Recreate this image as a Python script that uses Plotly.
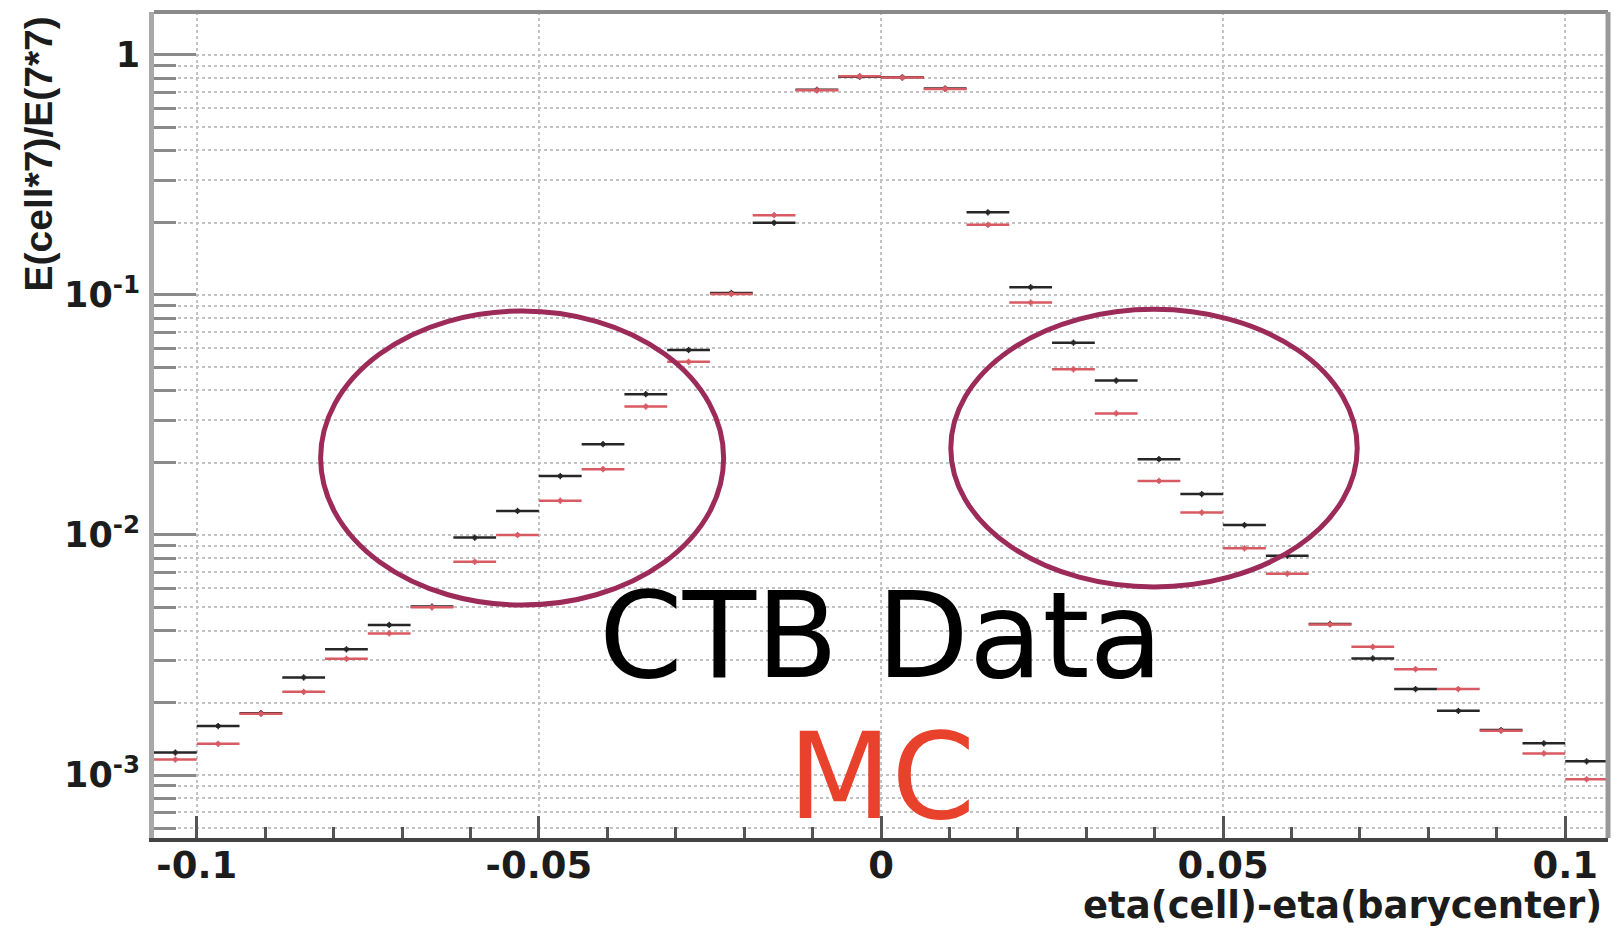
import numpy as np
import plotly.graph_objects as go

# Binning of eta(cell) - eta(barycenter): 34 bins of width 0.00625
N_BINS = 34
ETA_LO, ETA_HI = -0.10625, 0.10625
edges = np.linspace(ETA_LO, ETA_HI, N_BINS + 1)
eta_centers = 0.5 * (edges[:-1] + edges[1:])
half_bin = 0.5 * (edges[1] - edges[0])

# E(cell*7)/E(7*7) per bin
ctb_data = [1.24e-3, 1.60e-3, 1.81e-3, 2.55e-3, 3.34e-3, 4.22e-3, 5.03e-3,
            9.75e-3, 1.26e-2, 1.76e-2, 2.39e-2, 3.86e-2, 5.90e-2, 1.02e-1,
            2.00e-1, 7.16e-1, 8.12e-1, 8.07e-1, 7.25e-1, 2.21e-1, 1.077e-1,
            6.33e-2, 4.40e-2, 2.07e-2, 1.48e-2, 1.10e-2, 8.20e-3, 4.26e-3,
            3.06e-3, 2.28e-3, 1.85e-3, 1.54e-3, 1.355e-3, 1.14e-3]
mc = [1.16e-3, 1.35e-3, 1.80e-3, 2.22e-3, 3.05e-3, 3.89e-3, 5.00e-3,
      7.74e-3, 1.00e-2, 1.39e-2, 1.88e-2, 3.43e-2, 5.27e-2, 1.01e-1,
      2.15e-1, 7.12e-1, 8.15e-1, 8.05e-1, 7.22e-1, 1.96e-1, 9.30e-2,
      4.90e-2, 3.21e-2, 1.68e-2, 1.24e-2, 8.80e-3, 6.90e-3, 4.24e-3,
      3.42e-3, 2.76e-3, 2.28e-3, 1.53e-3, 1.23e-3, 9.60e-4]

x_tickvals = [-0.1, -0.05, 0, 0.05, 0.1]
x_ticktext = ["-0.1", "-0.05", "0", "0.05", "0.1"]
y_tickvals = [1e-3, 1e-2, 1e-1, 1]
y_ticktext = ["10<sup>-3</sup>", "10<sup>-2</sup>", "10<sup>-1</sup>", "1"]
y_minorvals = [m * 10.0 ** d for d in range(-4, 1) for m in range(2, 10)]

BLACK = "#262626"
RED = "#d85a63"
GRID = "#c2c2c2"
RING = "#9c2b59"

fig = go.Figure()


def add_hist(values, color):
    fig.add_trace(go.Scatter(
        x=eta_centers, y=values, mode="markers",
        marker=dict(color=color, size=4, symbol="square"),
        error_x=dict(type="constant", value=half_bin, color=color,
                     thickness=2.5, width=0),
        error_y=dict(type="percent", value=3, color=color,
                     thickness=1.5, width=0),
        showlegend=False, hoverinfo="skip",
    ))


add_hist(ctb_data, BLACK)
add_hist(mc, RED)

tick_font = dict(family="DejaVu Sans", size=37, color="#1c1c1c", weight="bold")

fig.update_xaxes(
    range=[ETA_LO, ETA_HI], tickmode="array", tickvals=x_tickvals,
    ticktext=x_ticktext, ticks="inside", ticklen=22, tickwidth=2.5,
    tickcolor="#555555", showline=True, linecolor="#444444", linewidth=4,
    showgrid=True, gridcolor=GRID, griddash="dot", gridwidth=1.5,
    zeroline=False, tickfont=tick_font, ticklabelstandoff=-8,
    minor=dict(dtick=0.01, tick0=0, ticks="inside", ticklen=11,
               tickwidth=2.5, tickcolor="#555555", showgrid=False),
)
fig.update_yaxes(
    type="log", range=[-3.2625, 0.179], tickmode="array",
    tickvals=y_tickvals, ticktext=y_ticktext, ticks="inside", ticklen=42,
    tickwidth=3, tickcolor="#8a8a8a", showline=True, linecolor="#a8a8a8",
    linewidth=5, showgrid=True, gridcolor=GRID, griddash="dot",
    gridwidth=1.5, zeroline=False,
    tickfont=dict(family="DejaVu Sans", size=35, color="#1c1c1c",
                  weight="bold"),
    ticklabelstandoff=2,
    minor=dict(tickmode="array", tickvals=y_minorvals, ticks="inside",
               ticklen=22, tickwidth=3, tickcolor="#8a8a8a", showgrid=True,
               gridcolor=GRID, griddash="dot", gridwidth=1.5),
)

shapes = [
    # upper and right frame edges
    dict(type="line", xref="paper", yref="paper", x0=0, x1=1, y0=1, y1=1,
         line=dict(color="#8a8a8a", width=4)),
    dict(type="line", xref="paper", yref="paper", x0=1, x1=1, y0=0, y1=1,
         line=dict(color="#999999", width=5)),
    # rings around the tails
    dict(type="circle", xref="x", yref="paper", x0=-0.0819, x1=-0.0230,
         y0=0.282, y1=0.638, line=dict(color=RING, width=5)),
    dict(type="circle", xref="x", yref="paper", x0=0.0102, x1=0.0696,
         y0=0.304, y1=0.640, line=dict(color=RING, width=5)),
]

annotations = [
    dict(text="CTB Data", xref="x", yref="paper", x=0, y=0.245,
         xanchor="center", yanchor="middle", showarrow=False,
         font=dict(family="DejaVu Sans", size=120, color="#000000")),
    dict(text="MC", xref="x", yref="paper", x=0, y=0.0745,
         xanchor="center", yanchor="middle", showarrow=False,
         font=dict(family="DejaVu Sans", size=120, color="#e8412c")),
    dict(text="eta(cell)-eta(barycenter)", xref="paper", yref="paper",
         x=1, y=0, xanchor="right", yanchor="middle", xshift=-4, yshift=-67,
         showarrow=False,
         font=dict(family="DejaVu Sans", size=37, color="#1c1c1c",
                   weight="bold")),
    dict(text="E(cell*7)/E(7*7)", xref="paper", yref="paper", x=0, y=1,
         xanchor="center", yanchor="top", xshift=-116, yshift=-3,
         textangle=-90, showarrow=False,
         font=dict(family="Liberation Sans", size=39, color="#1c1c1c",
                   weight="bold")),
]

fig.update_layout(
    width=1614, height=928,
    margin=dict(l=154, r=6, t=12, b=90),
    paper_bgcolor="white", plot_bgcolor="white",
    shapes=shapes, annotations=annotations,
)

fig.write_html("out.html")
